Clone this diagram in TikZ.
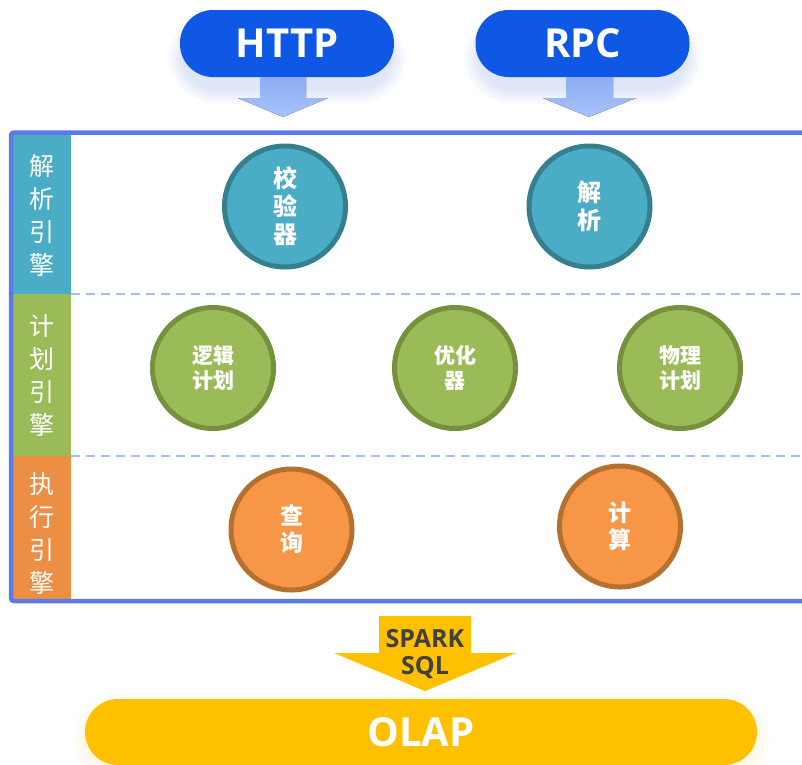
\documentclass[tikz,border=0pt]{standalone}
\usepackage{fontspec}
\setmainfont{Open Sans}
\newfontfamily\cjk{Noto Sans CJK SC}
\definecolor{pillblue}{HTML}{0F57E5}
\definecolor{glowblue}{HTML}{7F9CF0}
\definecolor{arrtop}{HTML}{8CADF5}
\definecolor{arrbot}{HTML}{A9C3FA}
\definecolor{frameblue}{HTML}{5B7AE8}
\definecolor{dashblue}{HTML}{A4BFF8}
\definecolor{tealfill}{HTML}{4BACC6}
\definecolor{tealline}{HTML}{357F8F}
\definecolor{greenfill}{HTML}{9BBB59}
\definecolor{greenline}{HTML}{76913C}
\definecolor{orangefill}{HTML}{F79646}
\definecolor{orangeline}{HTML}{B5702F}
\definecolor{colorange}{HTML}{EC8F45}
\definecolor{olapyellow}{HTML}{FFC000}
\definecolor{sqltext}{HTML}{404040}
\tikzset{
  pill/.style={rectangle, rounded corners=33pt, fill=pillblue, text=white,
    minimum width=214pt, minimum height=67pt, inner sep=0pt,
    font=\fontsize{40}{40}\selectfont\bfseries},
  downarrow/.style={top color=arrtop, bottom color=arrbot, draw=none},
  stage/.style={circle, draw, line width=5pt, minimum size=121pt, inner sep=0pt,
    text=white, align=center},
  tealc/.style={stage, fill=tealfill, draw=tealline,
    font=\cjk\bfseries\fontsize{24}{28}\selectfont},
  greenc/.style={stage, fill=greenfill, draw=greenline,
    font=\cjk\bfseries\fontsize{21}{25}\selectfont},
  orangec/.style={stage, fill=orangefill, draw=orangeline,
    font=\cjk\bfseries\fontsize{23}{27}\selectfont},
  collabel/.style={text=white, align=center, inner sep=0pt,
    font=\cjk\fontsize{25}{33}\selectfont},
  sepline/.style={draw=dashblue, line width=2pt, dash pattern=on 9pt off 6pt},
}
\newcommand{\glowpill}[6]{% cx, cy, w, h, color, opacity step
  \foreach \k in {2,4,...,16}{
    \fill[#5, opacity=#6, rounded corners=33pt+\k pt]
      ({#1-#3/2-\k},{#2-#4/2-\k}) rectangle ({#1+#3/2+\k},{#2+#4/2+\k});
  }}
\begin{document}
\begin{tikzpicture}[x=1pt,y=-1pt]
\useasboundingbox (0,0) rectangle (802,764);
\fill[white] (0,0) rectangle (802,764);

% glows
\glowpill{287}{58}{206}{60}{glowblue}{0.03}
\glowpill{582.5}{58}{206}{60}{glowblue}{0.03}
\glowpill{421}{738}{668}{62}{olapyellow}{0.012}

% entry pills
\node[pill] (http) at (287,43.5) {HTTP};
\node[pill] (rpc) at (582.5,43.5) {RPC};
\fill[downarrow] (260,77) -- (306,77) -- (306,98) -- (328,98) -- (283,117) -- (238,98) -- (260,98) -- cycle;
\fill[downarrow] (566,77) -- (613,77) -- (613,98) -- (636,98) -- (589,117) -- (543,98) -- (566,98) -- cycle;

% left column bands
\fill[white] (11,132.5) rectangle (802,601);
\fill[tealfill] (13,134.5) rectangle (71,294);
\fill[greenfill] (13,294) rectangle (71,456);
\fill[colorange] (13,456) rectangle (71,599);
\node[collabel] (l1) at (42,215) {解\\析\\引\\擎};
\node[collabel] (l2) at (42,376) {计\\划\\引\\擎};
\node[collabel] (l3) at (42,533) {执\\行\\引\\擎};

% separators
\coordinate (s1a) at (71,294); \coordinate (s1b) at (802,294);
\coordinate (s2a) at (71,455.5); \coordinate (s2b) at (802,455.5);
\draw[sepline] (s1a) -- (s1b);
\draw[sepline] (s2a) -- (s2b);

% frame
\draw[frameblue, line width=4.5pt, rounded corners=3pt]
  (803,132.5) -- (11,132.5) -- (11,601) -- (803,601);

% stage circles
\node[tealc] (verify) at (285,206.5) {校\\验\\器};
\node[tealc] (parse) at (589.5,206.5) {解\\析};
\node[greenc] (logic) at (213,368) {逻辑\\计划};
\node[greenc] (optim) at (455,368) {优化\\器};
\node[greenc] (phys) at (680,368) {物理\\计划};
\node[orangec] (query) at (291.5,529.5) {查\\询};
\node[orangec] (compute) at (620,526.5) {计\\算};

% spark sql arrow
\fill[olapyellow] (379,616) -- (471,616) -- (471,653) -- (516,653) -- (425,691) -- (334,653) -- (379,653) -- cycle;
\node[text=sqltext, align=center, font=\fontsize{25}{27}\selectfont\bfseries] (spark) at (425,654.5) {SPARK\\SQL};

% OLAP
\node[rectangle, rounded corners=33pt, fill=olapyellow, text=white,
  minimum width=672pt, minimum height=66pt, inner sep=0pt,
  font=\fontsize{40}{40}\selectfont\bfseries] (olap) at (421,732) {OLAP};
\end{tikzpicture}
\end{document}
